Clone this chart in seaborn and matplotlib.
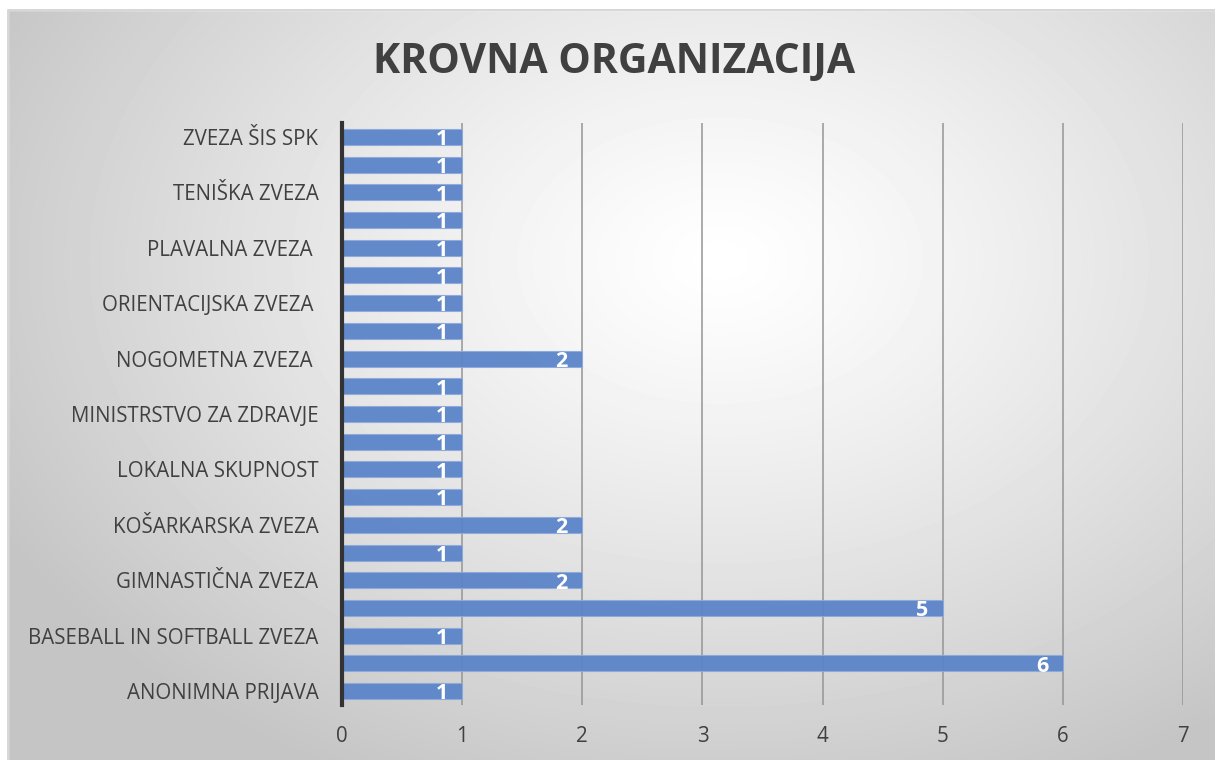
#!/usr/bin/env python3
"""Horizontal bar chart: krovna organizacija (count of reports)."""

import matplotlib

matplotlib.use("Agg")
import matplotlib.pyplot as plt
import numpy as np
import pandas as pd
import seaborn as sns
from matplotlib.patches import Rectangle

TITLE = "KROVNA ORGANIZACIJA"

# top to bottom; Excel only printed every other category label
LABELS = [
    "ZVEZA ŠIS SPK", "",
    "TENIŠKA ZVEZA", "",
    "PLAVALNA ZVEZA ", "",
    "ORIENTACIJSKA ZVEZA ", "",
    "NOGOMETNA ZVEZA ", "",
    "MINISTRSTVO ZA ZDRAVJE", "",
    "LOKALNA SKUPNOST", "",
    "KOŠARKARSKA ZVEZA", "",
    "GIMNASTIČNA ZVEZA", "",
    "BASEBALL IN SOFTBALL ZVEZA", "",
    "ANONIMNA PRIJAVA",
]
VALUES = [1, 1, 1, 1, 1, 1, 1, 1, 2, 1, 1, 1, 1, 1, 2, 1, 2, 5, 1, 6, 1]
X_TICKS = [0, 1, 2, 3, 4, 5, 6, 7]

BAR = "#5b84c9"
TEXT = "#404040"


def main() -> None:
    df = pd.DataFrame({"slot": range(len(VALUES)), "count": VALUES})

    sns.set_theme(style="white")
    plt.rcParams["font.family"] = ["Open Sans", "DejaVu Sans"]

    fig = plt.figure(figsize=(12.15, 7.6), dpi=100)

    # radial grey gradient background like the Excel chart area
    bg = fig.add_axes([0, 0, 1, 1], zorder=-2)
    yy, xx = np.mgrid[0:760, 0:1215]
    r = np.hypot((xx - 720) / 820, (yy - 260) / 580)
    shade = 1.0 - 0.23 * np.clip(r, 0, 1) ** 1.2
    bg.imshow(shade, cmap="gray", vmin=0, vmax=1, aspect="auto",
              extent=(0, 1215, 760, 0))
    bg.add_patch(Rectangle((0, 0), 8, 760, color="white"))
    bg.add_patch(Rectangle((0, 0), 1215, 10, color="white"))
    bg.plot([8, 8, 1215], [760, 10, 10], color="#d0d0d0", lw=1.2)
    bg.set_xlim(0, 1215)
    bg.set_ylim(760, 0)
    bg.axis("off")

    ax = fig.add_axes([0.2815, 0.0724, 0.6922, 0.7658])
    ax.set_facecolor("none")
    sns.barplot(
        data=df, x="count", y="slot", orient="h", color=BAR,
        width=0.58, saturation=1, edgecolor="#8eaadc", linewidth=0.8,
        alpha=0.95, ax=ax,
    )

    for i, v in enumerate(VALUES):
        ax.text(v - 0.12, i + 0.1, str(v), ha="right", va="center",
                color="white", fontsize=15.5, fontweight="bold")

    ax.set_xlim(0, 7)
    ax.set_ylim(len(VALUES) - 0.5, -0.5)
    ax.set_xticks(X_TICKS)
    ax.set_xticklabels([str(t) for t in X_TICKS])
    ax.set_yticks(range(len(LABELS)))
    ax.set_yticklabels(LABELS)
    ax.set_xlabel("")
    ax.set_ylabel("")
    ax.xaxis.grid(True, color="#959595", lw=1.1)
    ax.set_axisbelow(True)
    ax.tick_params(axis="both", length=0, labelsize=14.8, colors=TEXT)
    ax.tick_params(axis="y", pad=17)
    ax.tick_params(axis="x", pad=15)
    for side in ("top", "right", "bottom"):
        ax.spines[side].set_visible(False)
    ax.spines["left"].set_color("#333333")
    ax.spines["left"].set_linewidth(3)

    fig.text(0.505, 0.918, TITLE, ha="center", va="center",
             fontsize=29.5, fontweight="bold", color=TEXT)

    fig.savefig("out.png", dpi=100)
    plt.close(fig)


if __name__ == "__main__":
    main()
